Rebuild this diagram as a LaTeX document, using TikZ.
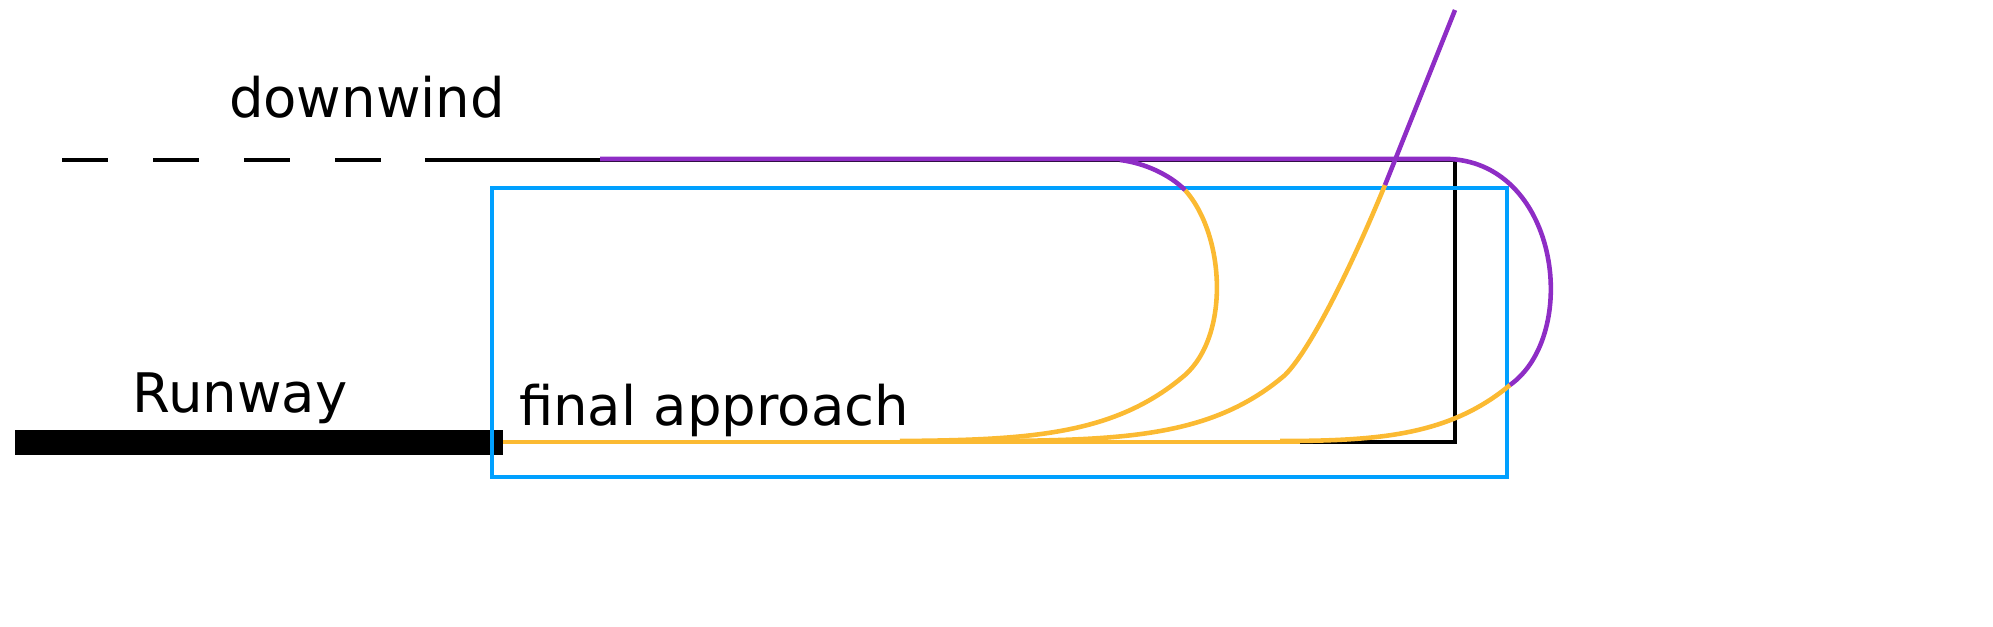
\documentclass[tikz,border=0pt]{standalone}
\usepackage{fontspec}
\setmainfont{DejaVu Sans}
\definecolor{pur}{HTML}{8E2DC5}
\definecolor{yel}{HTML}{FBBA32}
\definecolor{blu}{HTML}{00A0FF}
\begin{document}
\begin{tikzpicture}[x=0.01cm,y=-0.01cm,line width=1.2pt,
  lbl/.style={font=\fontsize{15.5}{18}\selectfont,inner sep=0pt},
  py/.style={line width=1.3pt}]
\useasboundingbox (0,0) rectangle (1993,627);
\node[lbl] (dw) at (367,97) {downwind};
\node[lbl] (rw) at (240,398) {Runway};
\node[lbl] (fa) at (714,410) {final approach};
% downwind dashed + black pattern
\draw[dash pattern=on 13pt off 12.9pt, line width=1.3pt] (62,160) -- (425,160);
\coordinate (c1) at (425,160);
\coordinate (c2) at (1455,160);
\coordinate (c3) at (1455,442);
\coordinate (c4) at (1285,442);
\draw[line width=1.3pt] (c1) -- (c2) -- (c3) -- (c4);
% runway
\fill (15,430) rectangle (503,455);
% blue box
\draw[blu,line width=1.3pt] (492,188) rectangle (1507,477);
% yellow paths
\draw[yel,py] (503,442) -- (1300,442);
\draw[yel,py] (1185,190) .. controls (1225,235) and (1230,335) .. (1185,375)
  .. controls (1115,435) and (1030,440) .. (900,441);
\draw[yel,py] (1385,185) .. controls (1350,270) and (1310,350) .. (1285,375)
  .. controls (1215,435) and (1130,440) .. (1000,441);
\draw[yel,py] (1510,385) .. controls (1450,435) and (1380,441) .. (1280,441);
% purple
\draw[pur,py] (600,159) -- (1450,159) .. controls (1560,165) and (1580,335) .. (1510,385);
\draw[pur,py] (1120,160) .. controls (1145,163) and (1170,175) .. (1185,190);
\draw[pur,py] (1455,10) -- (1385,185);
\end{tikzpicture}
\end{document}
